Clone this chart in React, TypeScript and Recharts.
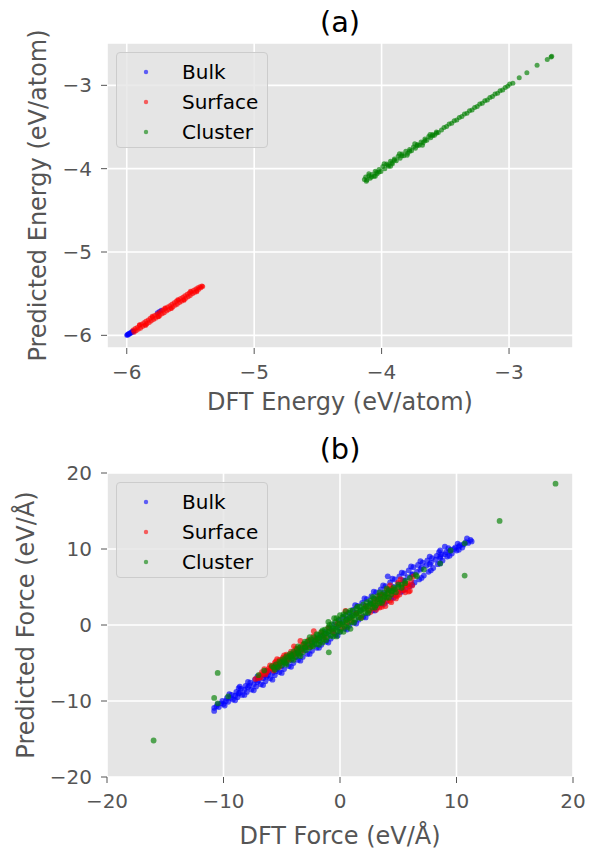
import React from "react";
import {
  ScatterChart,
  Scatter,
  XAxis,
  YAxis,
  CartesianGrid,
  Legend,
  Label,
} from "recharts";

type Pair = [number, number];

const FONT = "'DejaVu Sans', sans-serif";

const seriesNames = ["Bulk", "Surface", "Cluster"];
const seriesColors = ["#0000ff", "#ff0000", "#008000"];

const energyTicks = [-6, -5, -4, -3];
const forceTicks = [-20, -10, 0, 10, 20];

// (a) energies: [DFT, predicted] in eV/atom
const bulkEnergy: Pair[] = [
  [-6.0, -6.0], [-5.996, -5.99], [-5.992, -5.998], [-5.988, -5.982], [-5.984, -5.99],
  [-5.98, -5.975], [-5.975, -5.982], [-5.97, -5.965], [-5.965, -5.972], [-5.96, -5.955],
  [-5.955, -5.962], [-5.95, -5.948], [-5.944, -5.95], [-5.76, -5.73], [-5.745, -5.715],
  [-5.73, -5.7],
];

const surfaceEnergy: Pair[] = [
  [-5.95, -5.935], [-5.942, -5.962], [-5.934, -5.918], [-5.926, -5.945], [-5.918, -5.905],
  [-5.91, -5.928], [-5.9, -5.88], [-5.892, -5.915], [-5.884, -5.866], [-5.876, -5.895],
  [-5.866, -5.848], [-5.858, -5.88], [-5.85, -5.83], [-5.842, -5.862], [-5.832, -5.815],
  [-5.824, -5.846], [-5.816, -5.796], [-5.808, -5.828], [-5.798, -5.782], [-5.79, -5.81],
  [-5.782, -5.762], [-5.774, -5.795], [-5.764, -5.746], [-5.756, -5.776], [-5.748, -5.728],
  [-5.74, -5.762], [-5.73, -5.712], [-5.722, -5.742], [-5.714, -5.694], [-5.706, -5.728],
  [-5.696, -5.678], [-5.688, -5.708], [-5.68, -5.66], [-5.672, -5.694], [-5.662, -5.644],
  [-5.654, -5.674], [-5.646, -5.626], [-5.638, -5.66], [-5.628, -5.61], [-5.62, -5.64],
  [-5.612, -5.592], [-5.604, -5.626], [-5.594, -5.576], [-5.586, -5.606], [-5.578, -5.558],
  [-5.57, -5.592], [-5.56, -5.542], [-5.552, -5.572], [-5.544, -5.524], [-5.536, -5.556],
  [-5.526, -5.508], [-5.518, -5.538], [-5.51, -5.492], [-5.502, -5.522], [-5.492, -5.476],
  [-5.484, -5.502], [-5.476, -5.46], [-5.468, -5.486], [-5.458, -5.444], [-5.45, -5.466],
  [-5.442, -5.43], [-5.434, -5.448], [-5.426, -5.418], [-5.418, -5.428], [-5.41, -5.408],
  [-5.404, -5.414], [-5.9, -5.872], [-5.85, -5.878], [-5.8, -5.772], [-5.75, -5.778],
  [-5.7, -5.672], [-5.65, -5.678], [-5.6, -5.572], [-5.55, -5.578], [-5.5, -5.472],
  [-5.45, -5.478],
];

const clusterEnergy: Pair[] = [
  [-4.135, -4.13], [-4.125, -4.1], [-4.115, -4.135], [-4.1, -4.085], [-4.09, -4.115],
  [-4.075, -4.07], [-4.06, -4.09], [-4.05, -4.03], [-4.035, -4.06], [-4.02, -4.01],
  [-4.005, -4.035], [-3.99, -3.975], [-3.975, -4.0], [-3.96, -3.945], [-3.945, -3.97],
  [-3.93, -3.91], [-3.915, -3.94], [-3.9, -3.885], [-3.885, -3.905], [-3.87, -3.85],
  [-3.855, -3.875], [-3.84, -3.825], [-3.825, -3.845], [-3.81, -3.79], [-3.795, -3.815],
  [-3.78, -3.77], [-3.765, -3.785], [-3.75, -3.74], [-3.735, -3.755], [-3.72, -3.71],
  [-3.705, -3.72], [-3.69, -3.68], [-3.675, -3.69], [-3.66, -3.645], [-3.645, -3.66],
  [-3.63, -3.615], [-3.615, -3.63], [-3.6, -3.59], [-3.585, -3.6], [-3.57, -3.56],
  [-3.555, -3.565], [-3.53, -3.535], [-3.51, -3.505], [-3.49, -3.495], [-3.47, -3.465],
  [-3.45, -3.455], [-3.43, -3.425], [-3.41, -3.415], [-3.39, -3.385], [-3.37, -3.375],
  [-3.35, -3.345], [-3.33, -3.335], [-3.31, -3.305], [-3.29, -3.295], [-3.27, -3.265],
  [-3.25, -3.255], [-3.23, -3.225], [-3.21, -3.215], [-3.19, -3.185], [-3.17, -3.175],
  [-3.15, -3.145], [-3.13, -3.135], [-3.11, -3.105], [-3.09, -3.095], [-3.07, -3.065],
  [-3.05, -3.055], [-3.03, -3.025], [-3.01, -3.01], [-2.995, -2.985], [-2.97, -2.975],
  [-2.92, -2.91], [-2.86, -2.85], [-2.78, -2.76], [-2.7, -2.69], [-2.67, -2.66],
  [-2.665, -2.65], [-4.12, -4.15], [-4.1, -4.06], [-4.08, -4.1], [-4.05, -4.09],
  [-4.04, -4.045], [-4.02, -4.04], [-3.98, -3.94], [-3.95, -3.955], [-3.93, -3.97],
  [-3.92, -3.93], [-3.9, -3.9], [-3.86, -3.82], [-3.84, -3.845], [-3.8, -3.84],
  [-3.78, -3.79], [-3.74, -3.7], [-3.72, -3.725], [-3.68, -3.72], [-3.66, -3.665],
  [-3.62, -3.59], [-3.6, -3.605], [-3.57, -3.575],
];

// (b) forces: [DFT, predicted] in eV/Å
const bulkForce: Pair[] = [
  [-10.8, -11.3], [-10.8, -10.9], [-10.5, -10.4], [-10.4, -10.8], [-10.1, -10.0],
  [-10.0, -10.4], [-9.7, -9.6], [-9.6, -10.1], [-9.3, -9.2], [-9.2, -9.8],
  [-8.9, -8.8], [-8.8, -9.5], [-8.7, -9.0], [-8.6, -8.1], [-8.5, -8.4],
  [-8.4, -9.2], [-8.1, -8.0], [-8.0, -8.8], [-7.9, -8.2], [-7.7, -7.6],
  [-7.6, -8.5], [-7.3, -7.2], [-7.2, -8.1], [-7.1, -7.5], [-6.9, -6.9],
  [-6.8, -7.8], [-6.5, -6.6], [-6.4, -7.4], [-6.3, -6.8], [-6.1, -6.2],
  [-6.0, -7.0], [-5.7, -5.8], [-5.6, -6.6], [-5.5, -6.1], [-5.3, -5.4],
  [-5.2, -6.2], [-4.9, -4.9], [-4.8, -5.8], [-4.5, -4.5], [-4.4, -5.4],
  [-4.1, -4.0], [-4.0, -5.0], [-3.7, -3.6], [-3.6, -4.6], [-3.3, -3.1],
  [-3.2, -4.2], [-2.9, -2.7], [-2.8, -3.8], [-2.5, -2.2], [-2.4, -3.4],
  [-2.1, -1.8], [-2.0, -3.0], [-1.7, -1.3], [-1.6, -2.6], [-1.3, -0.9],
  [-1.2, -2.2], [-0.9, -0.4], [-0.8, -1.8], [-0.5, 0.1], [-0.4, -1.3],
  [-0.1, 0.6], [0.0, -0.9], [0.3, 1.1], [0.4, -0.5], [0.7, 1.6],
  [0.8, -0.1], [1.1, 2.0], [1.2, 0.3], [1.5, 2.5], [1.6, 0.7],
  [1.9, 2.9], [2.0, 1.1], [2.3, 3.4], [2.4, 1.5], [2.7, 3.8],
  [2.8, 1.9], [3.1, 4.3], [3.2, 2.3], [3.5, 4.7], [3.6, 2.7],
  [3.9, 5.1], [4.0, 3.1], [4.1, 6.4], [4.3, 5.6], [4.4, 3.5],
  [4.7, 6.0], [4.8, 3.9], [5.1, 6.4], [5.2, 4.3], [5.5, 6.8],
  [5.5, 5.8], [5.6, 4.7], [5.9, 7.2], [6.0, 5.1], [6.2, 6.6],
  [6.3, 7.6], [6.4, 5.6], [6.7, 7.9], [6.8, 6.0], [6.9, 7.3],
  [7.1, 8.2], [7.2, 6.5], [7.5, 8.5], [7.6, 7.0], [7.7, 8.0],
  [7.9, 8.8], [8.0, 7.5], [8.3, 9.1], [8.4, 8.0], [8.6, 9.8],
  [8.6, 8.8], [8.7, 9.3], [8.8, 8.5], [9.0, 10.3], [9.1, 9.6],
  [9.2, 9.0], [9.5, 9.9], [9.6, 9.4], [9.9, 10.2], [10.0, 9.8],
  [10.3, 10.5], [10.5, 10.2], [10.8, 10.9], [11.0, 10.8], [11.2, 11.2],
  [11.3, 11.0],
  [-10.6, -10.7], [-10.2, -10.3], [-9.8, -10.0], [-9.4, -9.6], [-9.0, -9.3],
  [-8.6, -8.9], [-8.2, -8.5], [-7.8, -8.0], [-7.4, -7.8], [-7.0, -7.3],
  [-6.6, -7.0], [-6.2, -6.6], [-5.8, -6.3], [-5.4, -5.8], [-5.0, -5.4],
  [-4.6, -5.0], [-4.2, -4.6], [-3.8, -4.2], [-3.4, -3.7], [-3.0, -3.3],
  [-2.6, -2.9], [-2.2, -2.5], [-1.8, -2.0], [-1.4, -1.6], [-1.0, -1.2],
  [-0.6, -0.7], [-0.2, -0.3], [0.2, 0.3], [0.6, 0.8], [1.0, 1.2],
  [1.4, 1.6], [1.8, 2.0], [2.2, 2.5], [2.6, 2.9], [3.0, 3.4],
  [3.4, 3.8], [3.8, 4.2], [4.2, 4.6], [4.6, 5.0], [5.0, 5.4],
  [5.4, 5.9], [5.8, 6.3], [6.2, 6.7], [6.6, 7.0], [7.0, 7.5],
  [7.4, 7.8], [7.8, 8.2], [8.2, 8.6], [8.6, 9.0], [9.0, 9.3],
  [9.4, 9.7], [9.8, 10.0], [10.2, 10.3], [10.6, 10.6],
  [-9.9, -10.6], [-9.0, -9.9], [-8.2, -9.2], [-7.4, -8.6], [-6.6, -7.9],
  [-5.8, -7.2], [-5.0, -6.3], [-4.2, -5.5], [-3.4, -4.7], [-2.6, -3.8],
  [-1.8, -3.0], [-1.0, -2.3], [-0.2, -1.4], [0.6, -0.6],
  [1.3, 2.6], [2.1, 3.5], [2.9, 4.4], [3.7, 5.2], [4.5, 6.1],
  [5.3, 6.9], [6.1, 7.7], [6.9, 8.4], [7.7, 9.0], [8.5, 9.6],
  [9.3, 10.1], [10.1, 10.7], [10.9, 11.4],
  [-9.5, -9.1], [-8.7, -8.3], [-7.9, -7.5], [-7.1, -6.8], [-6.3, -6.0],
  [-5.5, -5.2], [1.4, 0.2], [2.2, 1.0], [3.0, 1.9], [3.8, 2.8],
  [4.6, 3.6], [5.4, 4.5], [6.2, 5.3], [7.0, 6.2], [7.8, 7.2],
  [8.6, 8.1], [9.4, 9.1], [10.2, 9.9],
];

const surfaceForce: Pair[] = [
  [-7.25, -7.1], [-6.9, -6.6], [-6.8, -6.9], [-6.6, -6.4], [-6.5, -5.8],
  [-6.3, -6.2], [-6.2, -6.0], [-6.0, -5.3], [-5.9, -5.6], [-5.8, -5.7],
  [-5.6, -5.0], [-5.5, -5.3], [-5.4, -4.5], [-5.3, -5.2], [-5.1, -4.9],
  [-5.0, -4.6], [-4.8, -4.0], [-4.7, -4.4], [-4.6, -4.7], [-4.5, -4.1],
  [-4.3, -4.0], [-4.2, -3.5], [-4.0, -4.0], [-3.95, -2.8], [-3.9, -3.6],
  [-3.7, -3.3], [-3.5, -3.0], [-3.4, -2.1], [-3.3, -3.4], [-3.0, -2.5],
  [-2.7, -2.0], [-2.5, -2.8], [-2.25, -0.8], [-2.0, -1.9], [-1.6, -1.0],
  [-1.3, -1.6], [-1.0, -0.4], [-0.6, -0.9], [-0.2, 0.2], [0.2, -0.3],
  [0.47, 1.84], [0.6, 0.3], [1.0, 0.6], [1.4, 1.5], [1.8, 1.0],
  [2.2, 2.4], [2.6, 1.7], [2.8, 2.2], [3.0, 3.1], [3.2, 3.4],
  [3.3, 2.8], [3.4, 2.3], [3.6, 4.0], [3.7, 3.0], [3.8, 3.8],
  [3.9, 2.5], [4.05, 4.7], [4.1, 3.6], [4.3, 3.2], [4.4, 4.8],
  [4.5, 3.9], [4.6, 4.7], [4.8, 3.5], [4.9, 3.8], [5.0, 4.4],
  [5.0, 5.6], [5.2, 6.0], [5.3, 4.6], [5.4, 5.0], [5.6, 4.3],
  [5.8, 5.4], [5.9, 5.1], [6.0, 4.5], [6.1, 5.8], [6.3, 6.4],
  [-7.0, -7.0], [-6.7, -6.2], [-6.4, -6.5], [-6.1, -5.7], [-5.8, -5.4],
  [-5.7, -6.0], [-5.5, -4.8], [-5.2, -5.5], [-5.2, -4.6], [-4.9, -4.3],
  [-4.6, -3.9], [-4.4, -4.5], [-4.1, -3.8], [-3.8, -3.1], [-3.6, -3.8],
  [-3.2, -2.6], [-2.9, -2.9], [-2.6, -2.1], [-2.3, -1.5], [2.4, 2.0],
  [2.9, 2.6], [3.1, 2.0], [3.4, 3.9], [3.5, 3.3], [3.6, 2.4],
  [4.0, 3.2], [4.2, 4.2], [4.3, 5.2], [4.4, 3.0], [4.7, 4.1],
  [4.9, 4.7], [5.1, 4.0], [5.5, 4.6], [5.5, 5.4], [5.7, 5.2],
  [5.9, 4.4], [6.2, 5.2],
];

const clusterForce: Pair[] = [
  [-6.5, -6.0], [-5.85, -5.4], [-5.6, -5.9], [-5.5, -5.2], [-5.3, -5.6],
  [-5.2, -4.8], [-5.0, -5.3], [-4.9, -4.5], [-4.7, -5.0], [-4.6, -4.1],
  [-4.5, -4.3], [-4.4, -4.7], [-4.3, -3.8], [-4.1, -4.4], [-4.0, -3.5],
  [-3.9, -3.8], [-3.8, -4.2], [-3.7, -3.2], [-3.5, -3.9], [-3.4, -2.9],
  [-3.3, -3.2], [-3.2, -3.6], [-3.1, -2.5], [-2.9, -3.3], [-2.8, -2.2],
  [-2.7, -2.6], [-2.6, -3.0], [-2.5, -1.9], [-2.4, -2.3], [-2.3, -2.8],
  [-2.2, -1.6], [-2.1, -2.0], [-2.0, -2.5], [-1.9, -1.3], [-1.8, -1.7],
  [-1.7, -2.2], [-1.6, -0.9], [-1.5, -1.4], [-1.4, -1.9], [-1.3, -0.6],
  [-1.2, -1.1], [-1.1, -1.6], [-1.0, -0.3], [-0.9, -0.8], [-0.8, -1.4],
  [-0.7, 0.1], [-0.6, -0.4], [-0.5, -1.1], [-0.4, 0.4], [-0.3, -0.2],
  [-0.2, -0.8], [-0.1, 0.7], [0.0, 0.2], [0.1, -0.5], [0.2, 1.0],
  [0.3, 0.4], [0.4, -0.2], [0.5, 1.3], [0.6, 0.7], [0.7, 0.1],
  [0.8, 1.6], [0.9, 1.0], [1.0, 0.4], [1.1, 1.9], [1.2, 1.3],
  [1.3, 0.7], [1.4, 2.2], [1.5, 1.6], [1.6, 1.0], [1.7, 2.4],
  [1.8, 1.9], [1.9, 1.3], [2.0, 2.7], [2.1, 2.2], [2.2, 1.6],
  [2.3, 3.0], [2.4, 2.5], [2.5, 1.9], [2.6, 3.2], [2.7, 2.8],
  [2.8, 2.3], [2.9, 3.5], [3.1, 2.6], [3.2, 3.8], [3.3, 3.4],
  [3.4, 2.9], [3.5, 4.0], [3.7, 3.3], [3.8, 4.3], [3.9, 4.0],
  [4.0, 3.6], [4.2, 4.6], [4.4, 4.0], [4.5, 4.5], [4.6, 4.9],
  [4.8, 4.3], [5.0, 5.3], [5.3, 4.9], [5.6, 5.8], [6.0, 6.2],
  [6.5, 6.6], [6.6, 6.4], [-7.0, -6.6], [-0.96, -3.6], [7.2, 7.3],
  [8.6, 8.1], [9.5, 9.8], [-9.6, -9.4], [-10.5, -10.3], [-10.8, -9.6],
  [-10.5, -6.3], [-16.0, -15.2], [10.7, 10.75], [10.7, 6.5], [13.7, 13.7],
  [18.5, 18.6],
  [-5.7, -5.6], [-5.4, -5.5], [-5.1, -5.0], [-4.8, -4.7], [-4.8, -4.9],
  [-4.2, -4.1], [-4.2, -4.0], [-3.6, -3.5], [-3.6, -3.7], [-3.0, -2.9],
  [-3.0, -3.0], [-2.4, -2.7], [-2.2, -2.2], [-1.9, -1.8], [-1.6, -1.5],
  [-1.3, -1.2], [-1.0, -0.9], [-0.7, -0.6], [-0.4, -0.5], [-0.1, 0.0],
  [0.2, 0.1], [0.5, 0.6], [0.8, 0.9], [1.1, 1.2], [1.4, 1.4],
  [1.7, 1.8], [2.0, 2.1], [2.3, 2.3], [2.6, 2.7], [2.9, 2.9],
  [3.2, 3.1], [3.5, 3.5], [3.8, 3.7], [4.1, 4.2], [4.4, 4.4],
  [4.7, 4.7], [5.0, 5.0], [5.3, 5.3], [5.6, 5.5],
  [-2.0, -1.2], [-1.5, -0.7], [-0.9, 0.0], [-0.3, 0.9], [0.3, 1.4],
  [0.9, 1.9], [1.5, 2.4], [-1.8, -2.6], [-1.2, -2.0], [-0.6, -1.5],
  [0.0, -0.9], [0.6, -0.3], [1.2, 0.3], [1.8, 0.9], [2.4, 1.6],
  [3.0, 2.3], [-3.6, -2.8], [-3.0, -2.2], [-2.6, -1.6], [2.8, 3.7],
  [3.4, 4.3], [4.0, 4.8], [3.6, 2.9], [4.2, 3.6], [-4.6, -5.2],
  [-3.4, -4.1], [-4.0, -4.6], [-0.5, 0.9], [0.0, 1.3], [0.5, 1.8],
  [-1.0, 0.4], [-0.3, -1.5], [0.3, -0.9], [0.9, -0.5], [-1.5, -2.3],
];

const energySeries = [bulkEnergy, surfaceEnergy, clusterEnergy];
const forceSeries = [bulkForce, surfaceForce, clusterForce];

const fmt = (v: number) => (v < 0 ? `\u2212${Math.abs(v)}` : `${v}`);
const toPoints = (pairs: Pair[]) => pairs.map(([x, y]) => ({ x, y }));

const LegendBox = ({ payload }: any) => {
  const items = [...(payload || [])].sort(
    (a: any, b: any) => seriesNames.indexOf(a.value) - seriesNames.indexOf(b.value)
  );
  return (
    <div
      style={{
        width: 152,
        height: 96,
        boxSizing: "border-box",
        border: "1px solid #cccccc",
        borderRadius: 4,
        background: "rgba(229,229,229,0.8)",
        fontFamily: FONT,
        fontSize: 20,
        color: "#000",
        position: "relative",
      }}
    >
      {items.map((entry: any, i: number) => (
        <div
          key={`leg-${i}`}
          style={{ position: "absolute", left: 0, top: 4 + i * 30, height: 30, width: "100%" }}
        >
          <svg width={10} height={10} style={{ position: "absolute", left: 24, top: 10 }}>
            <circle cx={5} cy={5} r={2.2} fill={entry.color} fillOpacity={0.6} />
          </svg>
          <span style={{ position: "absolute", left: 65, top: 0, lineHeight: "30px" }}>
            {entry.value}
          </span>
        </div>
      ))}
    </div>
  );
};

interface PanelProps {
  title: string;
  top: number;
  plotTop: number;
  xAxisHeight: number;
  series: Pair[][];
  xDomain: [number, number];
  yDomain: [number, number];
  xTicks: number[];
  yTicks: number[];
  xLabel: string;
  yLabel: string;
  xLabelDy: number;
  yLabelX: number;
  titleBaseline: number;
  dotR: number;
}

function Panel(p: PanelProps) {
  const tickStyle = { fill: "#555555", fontSize: 20, fontFamily: FONT };
  const labelStyle = { fill: "#555555", fontSize: 24, fontFamily: FONT };
  return (
    <div style={{ position: "absolute", left: 0, top: p.top, width: 608, height: 425 }}>
      <div
        style={{
          position: "absolute",
          left: 107,
          width: 466,
          top: p.titleBaseline - 24.4,
          textAlign: "center",
          fontFamily: FONT,
          fontSize: 28.8,
          lineHeight: "28.8px",
          color: "#000",
        }}
      >
        {p.title}
      </div>
      <ScatterChart
        width={608}
        height={425}
        margin={{ top: p.plotTop, right: 35, bottom: 0, left: 0 }}
      >
        <CartesianGrid
          fill="#E5E5E5"
          fillOpacity={1}
          stroke="#ffffff"
          strokeWidth={1.6}
          horizontal
          vertical
        />
        <XAxis
          type="number"
          dataKey="x"
          domain={p.xDomain}
          ticks={p.xTicks}
          allowDataOverflow
          height={p.xAxisHeight}
          axisLine={false}
          tickLine={{ stroke: "#555555" }}
          tickSize={6}
          tickMargin={11}
          tick={tickStyle}
          tickFormatter={fmt}
        >
          <Label
            value={p.xLabel}
            content={(lp: any) => (
              <text
                x={lp.viewBox.x + lp.viewBox.width / 2}
                y={lp.viewBox.y + p.xLabelDy}
                textAnchor="middle"
                style={labelStyle}
              >
                {p.xLabel}
              </text>
            )}
          />
        </XAxis>
        <YAxis
          type="number"
          dataKey="y"
          domain={p.yDomain}
          ticks={p.yTicks}
          allowDataOverflow
          width={107}
          axisLine={false}
          tickLine={{ stroke: "#555555" }}
          tickSize={6}
          tickMargin={9}
          tick={tickStyle}
          tickFormatter={fmt}
        >
          <Label
            value={p.yLabel}
            content={(lp: any) => {
              const cx = lp.viewBox.x + p.yLabelX;
              const cy = lp.viewBox.y + lp.viewBox.height / 2;
              return (
                <text
                  x={cx}
                  y={cy}
                  textAnchor="middle"
                  transform={`rotate(-90, ${cx}, ${cy})`}
                  style={labelStyle}
                >
                  {p.yLabel}
                </text>
              );
            }}
          />
        </YAxis>
        <Legend
          layout="vertical"
          align="center"
          verticalAlign="middle"
          wrapperStyle={{ left: 116, top: p.plotTop + 9, width: 152, height: 96 }}
          content={<LegendBox />}
        />
        {p.series.map((pairs, i) => (
          <Scatter
            key={seriesNames[i]}
            name={seriesNames[i]}
            data={toPoints(pairs)}
            fill={seriesColors[i]}
            isAnimationActive={false}
            shape={(sp: any) => (
              <circle
                cx={sp.cx}
                cy={sp.cy}
                r={p.dotR}
                fill={seriesColors[i]}
                fillOpacity={0.65}
              />
            )}
          />
        ))}
      </ScatterChart>
    </div>
  );
}

export default function App() {
  return (
    <div
      style={{
        position: "absolute",
        left: 0,
        top: 0,
        width: 608,
        height: 850,
        background: "#ffffff",
      }}
    >
      <Panel
        title="(a)"
        top={0}
        plotTop={43}
        xAxisHeight={77}
        series={energySeries}
        xDomain={[-6.155, -2.498]}
        yDomain={[-6.152, -2.492]}
        xTicks={energyTicks}
        yTicks={energyTicks}
        xLabel="DFT Energy (eV/atom)"
        yLabel="Predicted Energy (eV/atom)"
        xLabelDy={61.5}
        yLabelX={46}
        titleBaseline={32.5}
        dotR={2.5}
      />
      <Panel
        title="(b)"
        top={425}
        plotTop={48}
        xAxisHeight={73}
        series={forceSeries}
        xDomain={[-20, 20]}
        yDomain={[-20, 20]}
        xTicks={forceTicks}
        yTicks={forceTicks}
        xLabel="DFT Force (eV/Å)"
        yLabel="Predicted Force (eV/Å)"
        xLabelDy={66.5}
        yLabelX={34}
        titleBaseline={34}
        dotR={2.9}
      />
    </div>
  );
}
